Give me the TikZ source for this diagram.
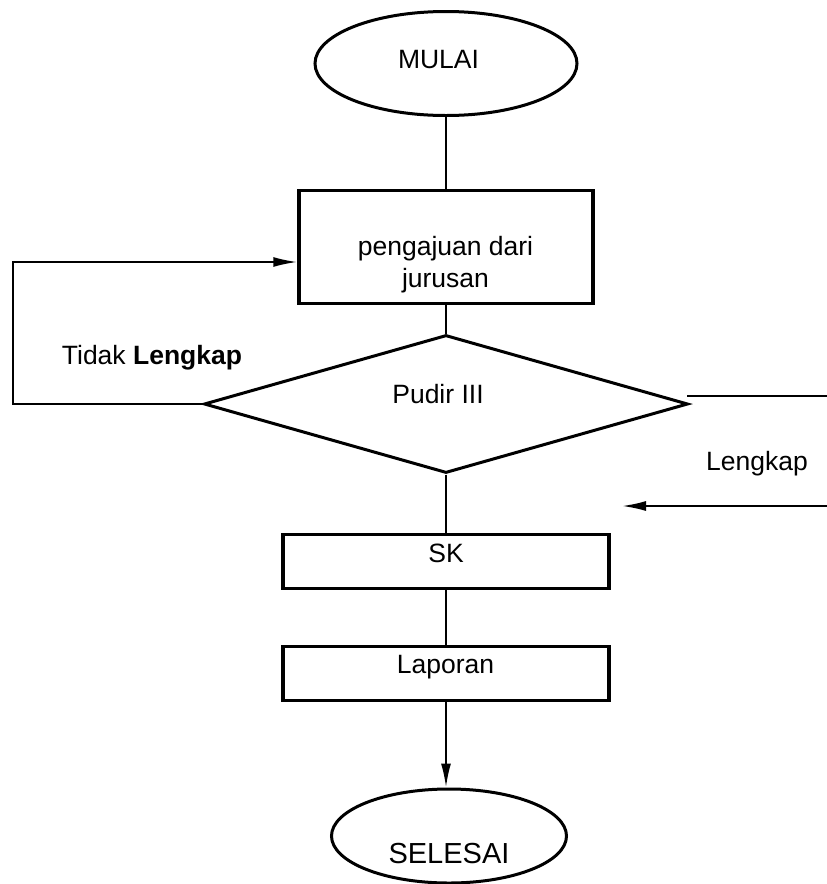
\documentclass[tikz,border=0pt]{standalone}
\usepackage{fontspec}
\setmainfont{Liberation Sans}
\usetikzlibrary{%
  arrows.meta,%
  shapes.geometric%
}
\tikzset{>={Latex[length=24pt,width=10pt]}}
\tikzset{
  terminal/.style={ellipse,draw,line width=3pt,inner sep=0pt},
  procbox/.style={rectangle,draw,line width=3.5pt,inner sep=0pt},
  decision/.style={diamond,draw,line width=3pt,inner sep=0pt},
  conn/.style={line width=2pt},
  txt/.style={font=\fontsize{26.5}{32}\selectfont,align=center,anchor=base}
}

\begin{document}
\begin{tikzpicture}[x=1pt,y=-1pt]
    \useasboundingbox (0,0) rectangle (827,884);

    \node[terminal,minimum width=262pt,minimum height=104pt] (mulai) at (446,63.5) {};
    \node[procbox,minimum width=294pt,minimum height=113pt] (ajuan) at (446,247) {};
    \node[decision,minimum width=484pt,minimum height=138pt] (pudir) at (446,404) {};
    \node[procbox,minimum width=326pt,minimum height=54pt] (sk) at (446,561.5) {};
    \node[procbox,minimum width=326pt,minimum height=54pt] (laporan) at (446,673.5) {};
    \node[terminal,minimum width=235pt,minimum height=94pt] (selesai) at (449,836) {};

    \node[txt] (mulait) at (438.5,68) {MULAI};
    \node[txt] (ajuant) at (445.5,287) {pengajuan dari\\jurusan};
    \node[txt] (pudirt) at (438,403) {Pudir III};
    \node[txt] (skt) at (446,562) {SK};
    \node[txt] (laporant) at (445.5,673) {Laporan};
    \node[txt,font=\fontsize{29}{34}\selectfont] (selesait) at (449,863) {SELESAI};
    \node[txt] (tidak) at (152,364) {Tidak \textbf{Lengkap}};
    \node[txt] (lengkap) at (757,470) {Lengkap};

    \draw[conn] (mulai.south) -- (ajuan.north);
    \draw[conn] (ajuan.south) -- (pudir.north);
    \draw[conn] (pudir.south) -- (sk.north);
    \draw[conn] (sk.south) -- (laporan.north);
    \draw[conn,->] (laporan.south) -- (laporan.south |- selesai.north);

    \coordinate (loopbot) at (13,404);
    \coordinate (looptop) at (13,262);
    \draw[conn,->] (pudir.west) -- (loopbot) -- (looptop) -- (looptop -| ajuan.west);

    \coordinate (yaout) at (687,396);
    \coordinate (yaedge) at (827,396);
    \coordinate (yain) at (827,506);
    \coordinate (yaend) at (622,506);
    \draw[conn] (yaout) -- (yaedge);
    \draw[conn,->] (yain) -- (yaend);
\end{tikzpicture}
\end{document}
